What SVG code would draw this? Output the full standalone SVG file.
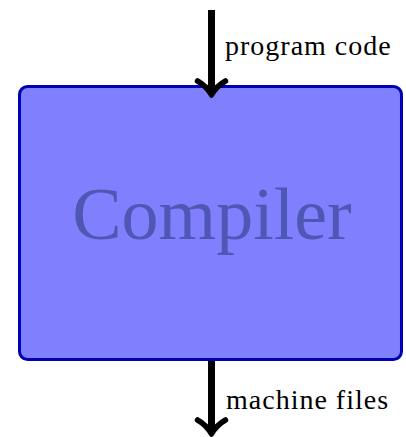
<svg xmlns="http://www.w3.org/2000/svg" width="406" height="437" viewBox="0 0 406 437">
  <style>
    .shaft { stroke: #000; stroke-width: 7; fill: none; }
    .head { stroke: #000; stroke-width: 5.5; fill: none; stroke-linecap: round; stroke-linejoin: round; }
  </style>
  <defs>
    <path id="tip" class="head" d="M-14,-14 Q-5,-9 0,0 Q5,-9 14,-14"/>
  </defs>

  <g id="compiler">
    <rect x="19.5" y="86.5" width="382" height="273" rx="8" ry="8" fill="#8080ff" stroke="#0000b4" stroke-width="3"/>
    <text x="212" y="239" text-anchor="middle" font-family="Liberation Serif" font-size="74" fill="#4f57b5" style="font-family: 'Liberation Serif', serif">Compiler</text>
  </g>

  <g id="connectors">
    <line class="shaft" x1="211.5" y1="10" x2="211.5" y2="93"/>
    <use href="#tip" x="211.5" y="95"/>
    <text x="225" y="55" font-family="Liberation Serif" font-size="28" letter-spacing="1" fill="#000" style="font-family: 'Liberation Serif', serif">program code</text>

    <line class="shaft" x1="211.5" y1="361" x2="211.5" y2="432"/>
    <use href="#tip" x="211.5" y="434"/>
    <text x="226" y="409" font-family="Liberation Serif" font-size="28" letter-spacing="1" fill="#000" style="font-family: 'Liberation Serif', serif">machine files</text>
  </g>
</svg>
